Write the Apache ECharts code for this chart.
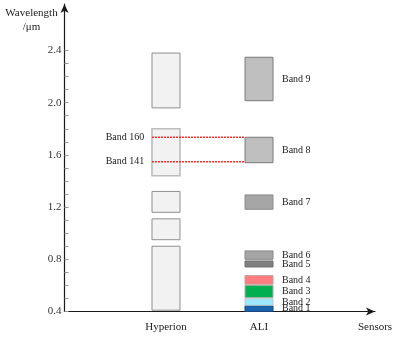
<!DOCTYPE html>
<html>
<head>
<meta charset="utf-8">
<script src="https://cdn.jsdelivr.net/npm/echarts@6/dist/echarts.min.js"></script>
<style>
html,body{margin:0;padding:0;background:#fff;}
#chart{width:404px;height:338px;}
</style>
</head>
<body>
<div id="chart"></div>
<script>
// ---- data ----
const sensors = ['Hyperion', 'ALI'];
const hyperionLow  = [0.41, 0.95, 1.16, 1.44, 1.96];
const hyperionHigh = [0.90, 1.11, 1.32, 1.80, 2.38];
const aliBands = ['Band 1','Band 2','Band 3','Band 4','Band 5','Band 6','Band 7','Band 8','Band 9'];
const aliLow  = [0.400, 0.448, 0.506, 0.609, 0.741, 0.800, 1.183, 1.540, 2.015];
const aliHigh = [0.444, 0.497, 0.601, 0.675, 0.787, 0.864, 1.293, 1.735, 2.348];
const hyperionRefBands = ['Band 160', 'Band 141'];
const hyperionRefWl = [1.735, 1.548];
const yLabelValues = [0.4, 0.8, 1.2, 1.6, 2.0, 2.4];
const yTickValues = [0.4,0.5,0.6,0.7,0.8,0.9,1.0,1.1,1.2,1.3,1.4,1.5,1.6,1.7,1.8,1.9,2.0,2.1,2.2,2.3,2.4];

// ---- styles ----
const FONT = 'Liberation Serif';
const BOX_W = 28;
const hypFill = ['#f2f2f2','#f2f2f2','#f2f2f2','#f2f2f2','#f2f2f2'];
const hypStroke = ['#8e8e8e','#8e8e8e','#8e8e8e','#bdbdbd','#8e8e8e'];
const hypLineW = [1,1,1,1.6,1];
const aliFill = ['#1a62ac','#9ce8ff','#00b050','#ff7c80','#808080','#a6a6a6','#a6a6a6','#bfbfbf','#bfbfbf'];
const aliStroke = ['#17487c','#b8c8cc','#a8b0a8','#c4a0a0','#6e6e6e','#858585','#8c8c8c','#7a7a7a','#7a7a7a'];

const hypX = sensors.indexOf('Hyperion') + 1;
const aliX = sensors.indexOf('ALI') + 1;

const chart = echarts.init(document.getElementById('chart'), null, {renderer: 'canvas'});

function boxRender(fills, strokes, widths, labels) {
  return function (params, api) {
    const x = api.value(0), lo = api.value(1), hi = api.value(2);
    const pTop = api.coord([x, hi]);
    const pBot = api.coord([x, lo]);
    const i = params.dataIndex;
    const children = [{
      type: 'rect',
      shape: {x: pTop[0] - BOX_W / 2, y: pTop[1], width: BOX_W, height: pBot[1] - pTop[1]},
      style: {fill: fills[i], stroke: strokes[i], lineWidth: widths ? widths[i] : 1}
    }];
    if (labels) {
      children.push({
        type: 'text',
        x: pTop[0] + BOX_W / 2 + 9,
        y: (pTop[1] + pBot[1]) / 2,
        style: {text: labels[i], font: '10px ' + FONT, fill: '#222', textAlign: 'left', textVerticalAlign: 'middle'}
      });
    }
    return {type: 'group', children};
  };
}

const option = {
  animation: false,
  backgroundColor: '#fff',
  grid: {left: 64.5, right: 29, top: 4, bottom: 26.5, containLabel: false},
  xAxis: {
    type: 'value', min: -0.091, max: 3.247,
    splitLine: {show: false},
    axisTick: {show: false},
    axisLine: {show: true, onZero: false, symbol: ['none', 'arrow'], symbolSize: [6, 9], symbolOffset: [0, 0],
      lineStyle: {color: '#1a1a1a', width: 1.2}},
    axisLabel: {customValues: [hypX, aliX], formatter: v => sensors[Math.round(v) - 1] || '',
      fontFamily: FONT, fontSize: 11, color: '#222', margin: 10},
    name: 'Sensors', nameLocation: 'end', nameGap: 0,
    nameTextStyle: {fontFamily: FONT, fontSize: 11, color: '#222', align: 'center', verticalAlign: 'top', padding: [10, 0, 0, 0]}
  },
  yAxis: {
    type: 'value', min: 0.4, max: 2.756,
    splitLine: {show: false},
    axisLine: {show: true, onZero: false, symbol: ['none', 'arrow'], symbolSize: [6, 9],
      lineStyle: {color: '#1a1a1a', width: 1.2}},
    axisTick: {show: true, inside: true, length: 4, customValues: yTickValues, lineStyle: {color: '#999', width: 1}},
    axisLabel: {customValues: yLabelValues, formatter: v => v.toFixed(1), fontFamily: FONT, fontSize: 11, color: '#333', margin: 3},
    name: 'Wavelength\n/μm', nameLocation: 'end', nameGap: -2,
    nameTextStyle: {fontFamily: FONT, fontSize: 11, color: '#222', align: 'center', verticalAlign: 'top', lineHeight: 14, padding: [0, 66, 0, 0]}
  },
  series: [
    {
      type: 'custom', name: 'Hyperion', clip: false,
      renderItem: boxRender(hypFill, hypStroke, hypLineW, null),
      data: hyperionLow.map((lo, i) => [hypX, lo, hyperionHigh[i]])
    },
    {
      type: 'custom', name: 'ALI', clip: false,
      renderItem: boxRender(aliFill, aliStroke, null, aliBands),
      data: aliLow.map((lo, i) => [aliX, lo, aliHigh[i]])
    },
    {
      type: 'custom', name: 'links', clip: false, z: 5, silent: true,
      renderItem: function (params, api) {
        const wl = api.value(0);
        const a = api.coord([hypX, wl]);
        const b = api.coord([aliX, wl]);
        const y = a[1];
        return {
          type: 'line',
          shape: {x1: a[0] - BOX_W / 2, y1: y, x2: b[0] - BOX_W / 2, y2: y},
          style: {stroke: '#ff2a2a', lineWidth: 1.5, lineDash: [2, 1]},
          textContent: {
            style: {text: hyperionRefBands[params.dataIndex], font: '10px ' + FONT, fill: '#222'}
          },
          textConfig: {position: 'left', distance: 7}
        };
      },
      data: hyperionRefWl.map(v => [v])
    }
  ]
};
chart.setOption(option);
</script>
</body>
</html>
